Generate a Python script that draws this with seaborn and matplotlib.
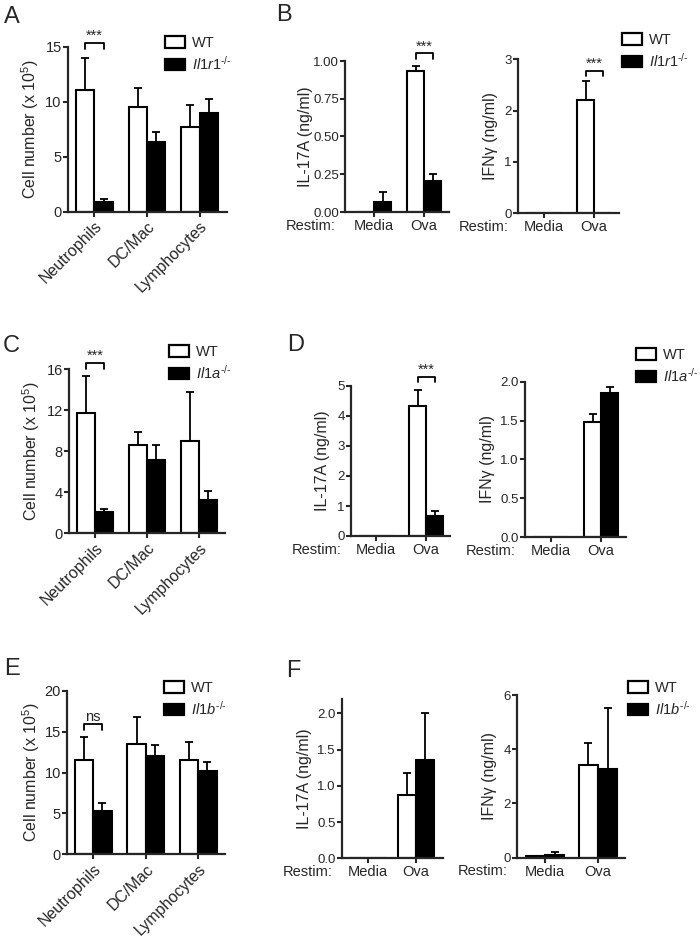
import numpy as np
import pandas as pd
import matplotlib
matplotlib.use('Agg')
import matplotlib.pyplot as plt
import seaborn as sns
from matplotlib.patches import Patch

# categories
cells = ['Neutrophils', 'DC/Mac', 'Lymphocytes']
restim = ['Media', 'Ova']

# A: cell counts (x 10^5), WT vs Il1r1-/-
a_wt = [11.1, 9.5, 7.7]
a_wt_err = [2.9, 1.7, 2.0]
a_ko = [0.85, 6.35, 9.0]
a_ko_err = [0.28, 0.9, 1.25]

# B: cytokines, WT vs Il1r1-/-
b_il17_wt = [0.0, 0.935]
b_il17_wt_err = [0.0, 0.03]
b_il17_ko = [0.065, 0.205]
b_il17_ko_err = [0.07, 0.045]
b_ifng_wt = [0.0, 2.21]
b_ifng_wt_err = [0.0, 0.36]
b_ifng_ko = [0.0, 0.0]
b_ifng_ko_err = [0.0, 0.0]

# C: cell counts, WT vs Il1a-/-
c_wt = [11.75, 8.6, 9.0]
c_wt_err = [3.6, 1.3, 4.8]
c_ko = [2.05, 7.1, 3.2]
c_ko_err = [0.3, 1.5, 0.9]

# D: cytokines, WT vs Il1a-/-
d_il17_wt = [0.0, 4.33]
d_il17_wt_err = [0.0, 0.55]
d_il17_ko = [0.0, 0.68]
d_il17_ko_err = [0.0, 0.14]
d_ifng_wt = [0.0, 1.48]
d_ifng_wt_err = [0.0, 0.1]
d_ifng_ko = [0.0, 1.85]
d_ifng_ko_err = [0.0, 0.08]

# E: cell counts, WT vs Il1b-/-
e_wt = [11.5, 13.45, 11.55]
e_wt_err = [2.85, 3.35, 2.15]
e_ko = [5.35, 12.0, 10.2]
e_ko_err = [0.9, 1.4, 1.05]

# F: cytokines, WT vs Il1b-/-
f_il17_wt = [0.0, 0.88]
f_il17_wt_err = [0.0, 0.3]
f_il17_ko = [0.0, 1.36]
f_il17_ko_err = [0.0, 0.65]
f_ifng_wt = [0.06, 3.42]
f_ifng_wt_err = [0.0, 0.82]
f_ifng_ko = [0.1, 3.27]
f_ifng_ko_err = [0.12, 2.25]

sns.set_style('ticks')
plt.rcParams['font.family'] = ['Liberation Sans', 'DejaVu Sans']
plt.rcParams['mathtext.fontset'] = 'custom'
plt.rcParams['mathtext.rm'] = 'Liberation Sans'
plt.rcParams['mathtext.it'] = 'Liberation Sans:italic'

W, H = 700, 938
fig = plt.figure(figsize=(7, 9.38), dpi=100)


def add_ax(l, t, r, b):
    return fig.add_axes([l / W, 1 - b / H, (r - l) / W, (b - t) / H])


def bars(ax, cats, wt, wt_err, ko, ko_err, width):
    df = pd.DataFrame({'cat': cats * 2,
                       'geno': ['WT'] * len(cats) + ['KO'] * len(cats),
                       'val': wt + ko})
    sns.barplot(data=df, x='cat', y='val', hue='geno', order=cats,
                hue_order=['WT', 'KO'], palette={'WT': 'white', 'KO': 'black'},
                edgecolor='black', linewidth=1.5, width=width, errorbar=None,
                legend=False, ax=ax)
    pos = np.arange(len(cats))
    for j, (v, e) in enumerate([(wt, wt_err), (ko, ko_err)]):
        x = pos + (j - 0.5) * width / 2
        v = np.array(v)
        e = np.array(e)
        m = e > 0
        ax.errorbar(x[m], v[m], yerr=[np.zeros(m.sum()), e[m]], fmt='none',
                    ecolor='black', elinewidth=1.3, capsize=3.2, capthick=1.3)


def style(ax, xlim, ylim, yticks, yfmt, ylabel, label_off, width_px, ysize):
    sns.despine(ax=ax)
    ax.set_xlim(xlim)
    ax.set_ylim(ylim)
    ax.set_yticks(yticks)
    ax.set_yticklabels([yfmt.format(t) for t in yticks])
    for s in ['left', 'bottom']:
        ax.spines[s].set_linewidth(1.6)
    ax.tick_params(axis='both', width=1.5, length=3.5)
    ax.tick_params(axis='y', labelsize=ysize, pad=1)
    ax.tick_params(axis='x', labelsize=10.5, pad=1.5)
    ax.set_xlabel('')
    ax.set_ylabel(ylabel, fontsize=11.5)
    ax.yaxis.set_label_coords(-label_off / width_px, 0.5)


def bracket(ax, i, width, y, h, text):
    x1 = i - width / 4
    x2 = i + width / 4
    ax.plot([x1, x1, x2, x2], [y - h, y, y, y - h], color='black', lw=1.3,
            clip_on=False)
    ax.text((x1 + x2) / 2, y, text, ha='center', va='bottom', fontsize=10.5,
            clip_on=False)


def cell_panel(rect, wt, wt_err, ko, ko_err, xlim, ylim, yticks, label_off):
    ax = add_ax(*rect)
    bars(ax, cells, wt, wt_err, ko, ko_err, 0.7)
    style(ax, xlim, ylim, yticks, '{:g}', 'Cell number (x 10$^5$)', label_off,
          rect[2] - rect[0], 10.5)
    ax.set_xticks(range(len(cells)))
    ax.set_xticklabels(cells, rotation=45, ha='right', rotation_mode='anchor',
                       fontsize=11.5)
    return ax


def cyto_panel(rect, wt, wt_err, ko, ko_err, width, xlim, ylim, yticks, yfmt,
               ylabel, label_off):
    ax = add_ax(*rect)
    bars(ax, restim, wt, wt_err, ko, ko_err, width)
    style(ax, xlim, ylim, yticks, yfmt, ylabel, label_off, rect[2] - rect[0],
          9.5)
    ax.annotate('Restim:', xy=(0, 0), xycoords='axes fraction',
                xytext=(-7, -4.8), textcoords='offset points', ha='right',
                va='top', fontsize=10.5)
    return ax


def legend(x, y, ko_label):
    handles = [Patch(facecolor='white', edgecolor='black', linewidth=1.6),
               Patch(facecolor='black', edgecolor='black', linewidth=1.6)]
    fig.legend(handles, ['WT', ko_label], loc='upper left',
               bbox_to_anchor=(x / W, 1 - y / H), frameon=False, fontsize=10.5,
               handlelength=1.35, handleheight=0.8, labelspacing=0.3,
               handletextpad=0.5, borderpad=0, borderaxespad=0)


il17 = 'IL-17A (ng/ml)'
ifng = 'IFNγ (ng/ml)'

# A
ax = cell_panel((68, 46.7, 227, 211.7), a_wt, a_wt_err, a_ko, a_ko_err,
                (-0.5, 2.52), (0, 15), [0, 5, 10, 15], 27)
bracket(ax, 0, 0.7, 15.35, 0.55, '***')
legend(165, 36, r'$\mathit{Il1r1}^{\text{-/-}}$')

# B
ax = cyto_panel((345, 61, 449, 212), b_il17_wt, b_il17_wt_err, b_il17_ko,
                b_il17_ko_err, 0.68, (-0.58, 1.5), (0, 1.0),
                [0, 0.25, 0.5, 0.75, 1.0], '{:.2f}', il17, 32)
bracket(ax, 1, 0.68, 1.05, 0.04, '***')
ax = cyto_panel((518, 59.3, 619, 213.3), b_ifng_wt, b_ifng_wt_err, b_ifng_ko,
                b_ifng_ko_err, 0.68, (-0.52, 1.5), (0, 3), [0, 1, 2, 3],
                '{:g}', ifng, 20)
bracket(ax, 1, 0.68, 2.77, 0.1, '***')
legend(622, 33, r'$\mathit{Il1r1}^{\text{-/-}}$')

# C
ax = cell_panel((69, 369, 225, 533), c_wt, c_wt_err, c_ko, c_ko_err,
                (-0.5, 2.5), (0, 16), [0, 4, 8, 12, 16], 27)
bracket(ax, 0, 0.7, 16.6, 0.6, '***')
legend(169, 345, r'$\mathit{Il1a}^{\text{-/-}}$')

# D
ax = cyto_panel((351, 386, 450, 536), d_il17_wt, d_il17_wt_err, d_il17_ko,
                d_il17_ko_err, 0.68, (-0.5, 1.48), (0, 5), [0, 1, 2, 3, 4, 5],
                '{:g}', il17, 21)
bracket(ax, 1, 0.68, 5.3, 0.17, '***')
ax = cyto_panel((525, 381.7, 626, 537), d_ifng_wt, d_ifng_wt_err, d_ifng_ko,
                d_ifng_ko_err, 0.68, (-0.52, 1.5), (0, 2.0),
                [0, 0.5, 1.0, 1.5, 2.0], '{:.1f}', ifng, 30)
legend(636, 348, r'$\mathit{Il1a}^{\text{-/-}}$')

# E
ax = cell_panel((67, 690.7, 225, 854.3), e_wt, e_wt_err, e_ko, e_ko_err,
                (-0.5, 2.51), (0, 20), [0, 5, 10, 15, 20], 25)
bracket(ax, 0, 0.7, 15.95, 0.75, 'ns')
legend(164, 681, r'$\mathit{Il1b}^{\text{-/-}}$')

# F
cyto_panel((342, 699, 443, 858.3), f_il17_wt, f_il17_wt_err, f_il17_ko,
           f_il17_ko_err, 0.76, (-0.55, 1.57), (0, 2.2),
           [0, 0.5, 1.0, 1.5, 2.0], '{:.1f}', il17, 30)
cyto_panel((517, 695, 625, 857.7), f_ifng_wt, f_ifng_wt_err, f_ifng_ko,
           f_ifng_ko_err, 0.72, (-0.53, 1.51), (0, 6), [0, 2, 4, 6],
           '{:g}', ifng, 20)
legend(628, 681, r'$\mathit{Il1b}^{\text{-/-}}$')

# panel letters
for letter, x, y in [('A', 4, 6), ('B', 276, 4), ('C', 3, 335), ('D', 287, 334),
                     ('E', 4, 658), ('F', 286, 660)]:
    fig.text(x / W, 1 - y / H, letter, fontsize=17, ha='left', va='top')

fig.savefig('out.png', dpi=100)
